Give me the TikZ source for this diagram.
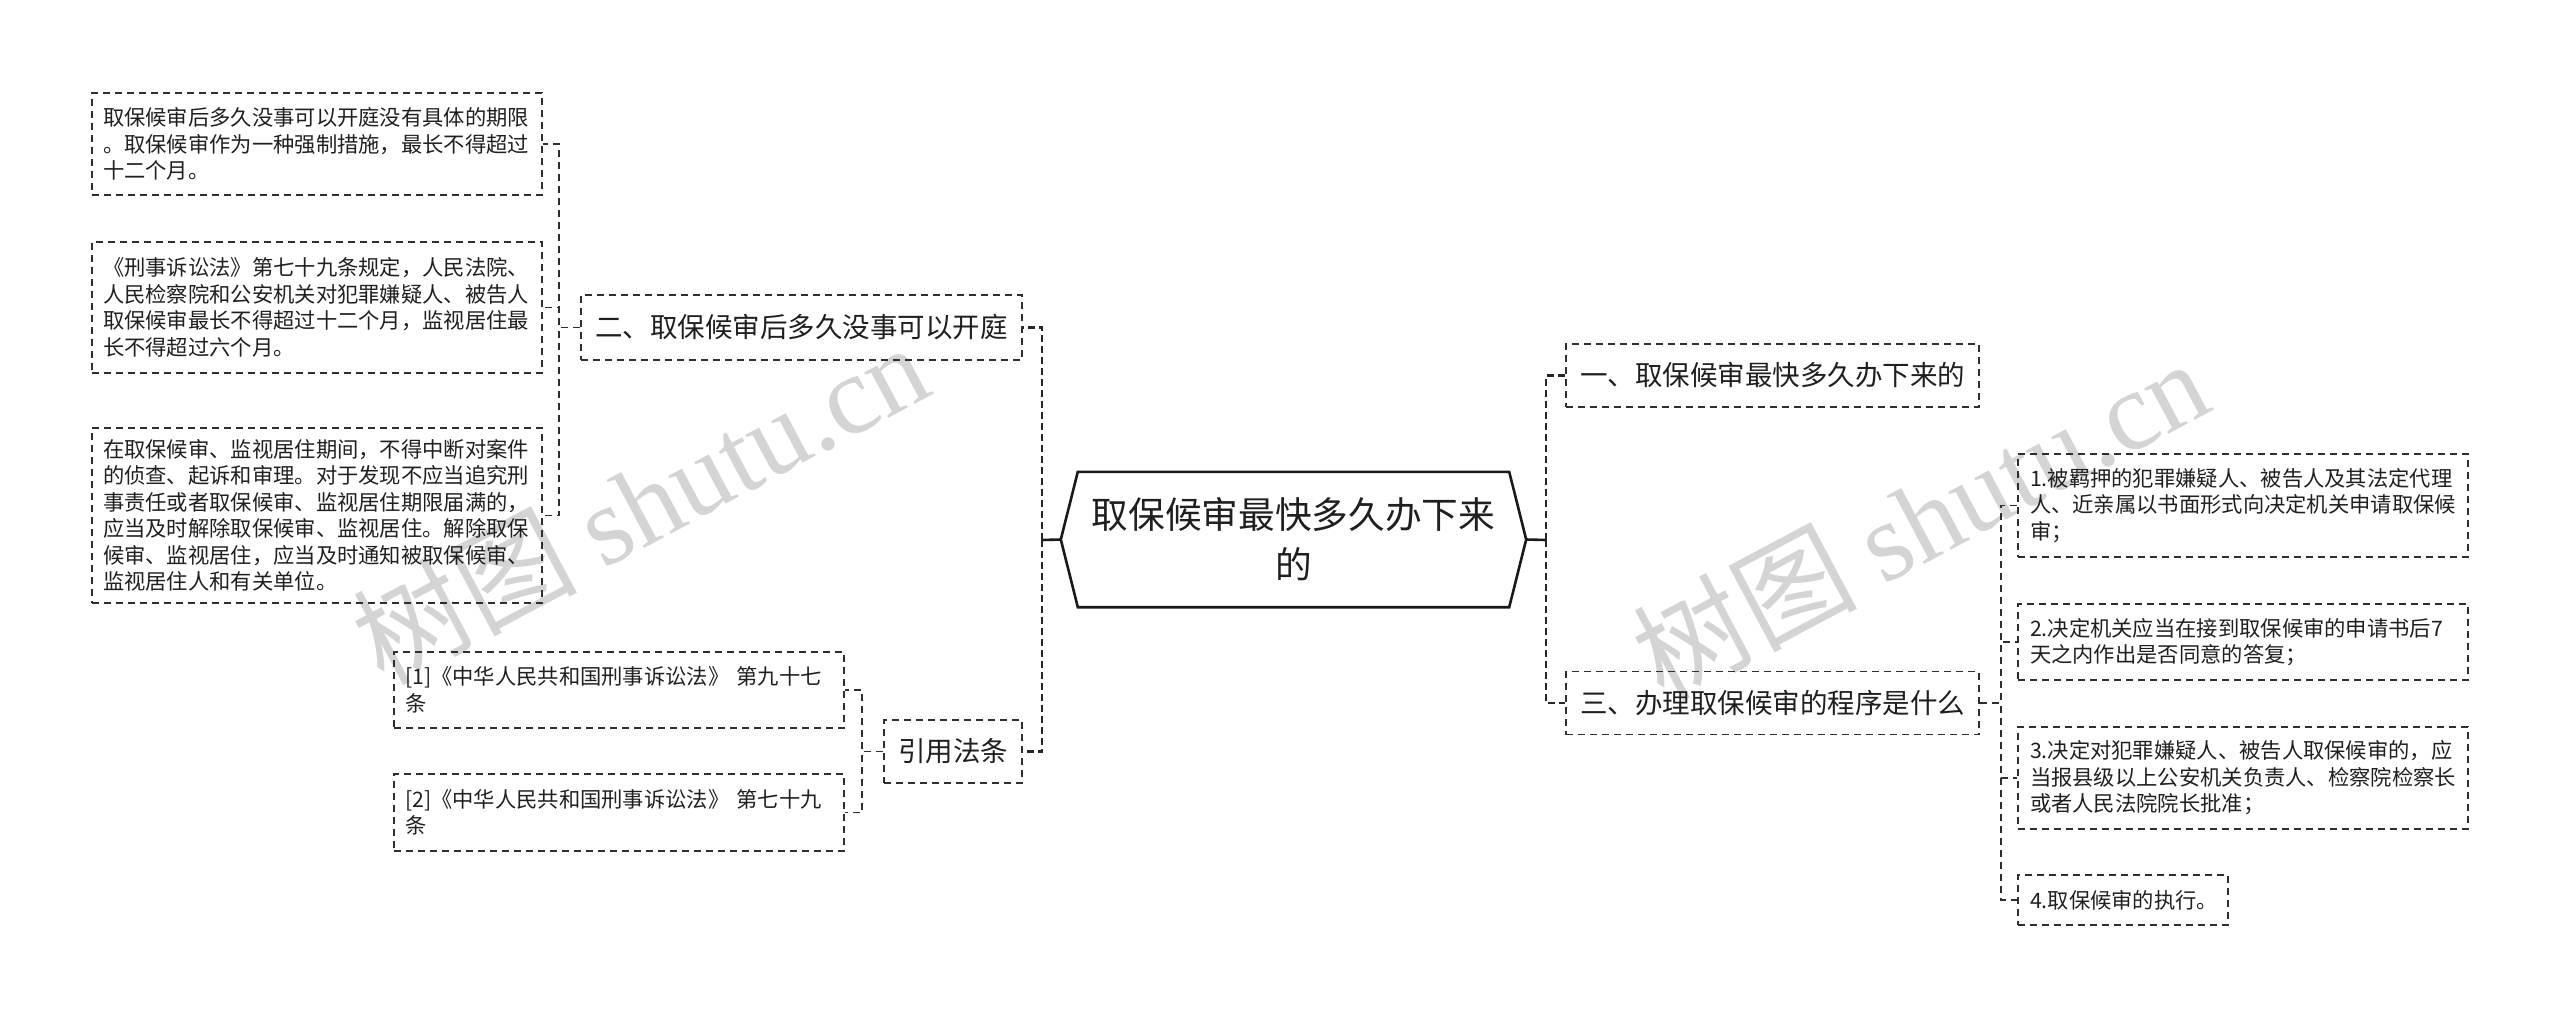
\documentclass[tikz,border=0pt]{standalone}
\usepackage{fontspec}
\setmainfont{Noto Sans CJK SC}
\newfontfamily\wmlatin{Liberation Serif}
\begin{document}
\begin{tikzpicture}[x=1pt,y=-1pt,
  every node/.style={text=black!88},
  leaf/.style={draw=black!82, line width=1.6pt, dash pattern=on 7pt off 5pt,
    inner ysep=0pt, align=left, font=\fontsize{21.3}{26.5}\selectfont},
  leafL/.style={leaf, text width=428pt, inner xsep=11pt},
  leafR/.style={leaf, text width=426pt, inner xsep=12pt},
  mid/.style={draw=black!82, line width=1.6pt, dash pattern=on 7pt off 5pt,
    inner sep=0pt, align=center, font=\fontsize{27.5}{33}\selectfont},
  rootnode/.style={inner sep=0pt, align=center, minimum width=465pt, minimum height=135pt,
    font=\fontsize{36.7}{50}\selectfont},
  rootline/.style={draw=black!90, line width=2.6pt},
  trunk/.style={draw=black!85, line width=2.6pt, dash pattern=on 7pt off 4pt},
  conn/.style={draw=black!82, line width=1.6pt, dash pattern=on 7pt off 5pt},
  wm/.style={text=black!17, font=\fontsize{112}{120}\selectfont, inner sep=0pt}
]
\useasboundingbox (0,0) rectangle (2560,1017);

% watermarks
\node[wm, rotate=28] (wm1) at (640,502) {树图 {\wmlatin shutu.cn}};
\node[wm, rotate=28] (wm2) at (1920,518) {树图 {\wmlatin shutu.cn}};

% root
\node[rootnode] (root) at (1293.5,539.5) {取保候审最快多久办下来\\的};
\draw[rootline] (root.west) -- ([xshift=17pt]root.north west) -- ([xshift=-17pt]root.north east)
  -- (root.east) -- ([xshift=-17pt]root.south east) -- ([xshift=17pt]root.south west) -- cycle;

% level 1
\node[mid, minimum width=441pt, minimum height=65pt] (er) at (801.5,327.5) {二、取保候审后多久没事可以开庭};
\node[mid, minimum width=138pt, minimum height=63pt] (yf) at (953,751.5) {引用法条};
\node[mid, minimum width=413pt, minimum height=63pt] (ey) at (1772.5,375.5) {一、取保候审最快多久办下来的};
\node[mid, minimum width=413pt, minimum height=63pt] (es) at (1772.5,703) {三、办理取保候审的程序是什么};

% left leaves
\node[leafL, minimum height=102pt] (a1) at (317,144) {取保候审后多久没事可以开庭没有具体的期限\\。取保候审作为一种强制措施，最长不得超过\\十二个月。};
\node[leafL, minimum height=131pt] (a2) at (317,307.5) {《刑事诉讼法》第七十九条规定，人民法院、\\人民检察院和公安机关对犯罪嫌疑人、被告人\\取保候审最长不得超过十二个月，监视居住最\\长不得超过六个月。};
\node[leafL, minimum height=175pt] (a3) at (317,515.5) {在取保候审、监视居住期间，不得中断对案件\\的侦查、起诉和审理。对于发现不应当追究刑\\事责任或者取保候审、监视居住期限届满的，\\应当及时解除取保候审、监视居住。解除取保\\候审、监视居住，应当及时通知被取保候审、\\监视居住人和有关单位。};

% references
\node[leafL, minimum height=76pt] (r1) at (619,690) {[1]《中华人民共和国刑事诉讼法》 第九十七\\条};
\node[leafL, minimum height=77pt] (r2) at (619,812.5) {[2]《中华人民共和国刑事诉讼法》 第七十九\\条};

% right leaves
\node[leafR, minimum height=103pt] (s1) at (2243,505.5) {1.被羁押的犯罪嫌疑人、被告人及其法定代理\\人、近亲属以书面形式向决定机关申请取保候\\审；};
\node[leafR, minimum height=76pt] (s2) at (2243,642) {2.决定机关应当在接到取保候审的申请书后7\\天之内作出是否同意的答复；};
\node[leafR, minimum height=102pt] (s3) at (2243,778) {3.决定对犯罪嫌疑人、被告人取保候审的，应\\当报县级以上公安机关负责人、检察院检察长\\或者人民法院院长批准；};
\node[leaf, text width=186pt, inner xsep=12pt, minimum height=50pt] (s4) at (2123,900) {4.取保候审的执行。};

% connectors
\coordinate (rl) at (1042,540);
\coordinate (rr) at (1546,540);
\draw[rootline] (root.west) -- (rl);
\draw[rootline] (root.east) -- (rr);
\draw[trunk] (rl) |- (er.east);
\draw[trunk] (rl) |- (yf.east);
\draw[trunk] (rr) |- (ey.west);
\draw[trunk] (rr) |- (es.west);

\draw[conn] (er.west) -- ++(-21,0) |- (a1.east);
\draw[conn] (er.west) -- ++(-21,0) |- (a2.east);
\draw[conn] (er.west) -- ++(-21,0) |- (a3.east);

\draw[conn] (yf.west) -- ++(-21,0) |- (r1.east);
\draw[conn] (yf.west) -- ++(-21,0) |- (r2.east);

\draw[conn] (es.east) -- ++(21,0) |- (s1.west);
\draw[conn] (es.east) -- ++(21,0) |- (s2.west);
\draw[conn] (es.east) -- ++(21,0) |- (s3.west);
\draw[conn] (es.east) -- ++(21,0) |- (s4.west);
\end{tikzpicture}
\end{document}
